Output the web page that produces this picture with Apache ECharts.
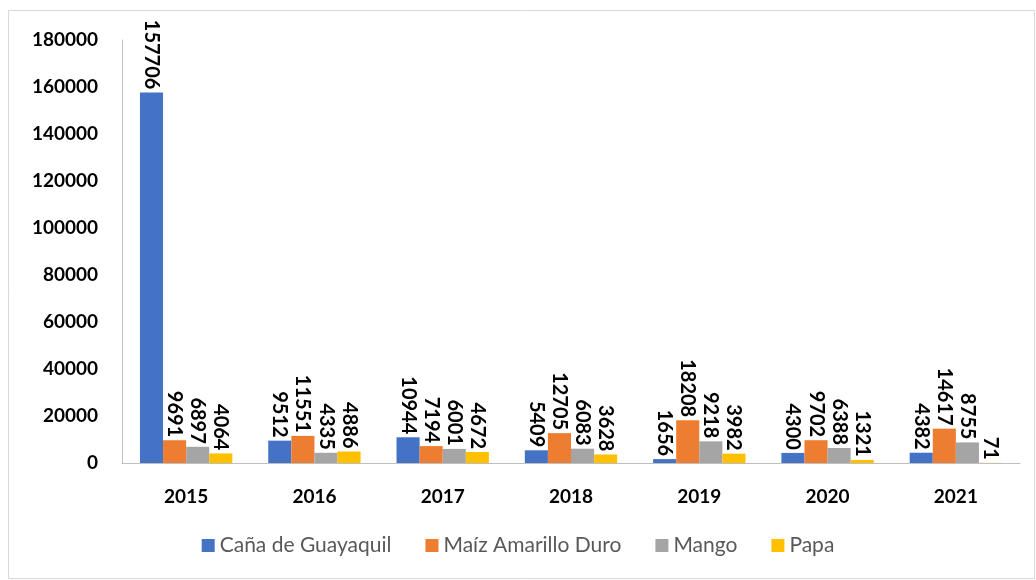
<!DOCTYPE html>
<html>
<head>
<meta charset="utf-8">
<script src="https://cdn.jsdelivr.net/npm/echarts@6/dist/echarts.min.js"></script>
<style>
  html, body { margin: 0; padding: 0; background: #fff; }
  #main { width: 1036px; height: 580px; }
</style>
</head>
<body>
<div id="main"></div>
<script>
const years = ['2015', '2016', '2017', '2018', '2019', '2020', '2021'];
const cana = [157706, 9512, 10944, 5409, 1656, 4300, 4382];
const maiz = [9691, 11551, 7194, 12705, 18208, 9702, 14617];
const mango = [6897, 4335, 6001, 6083, 9218, 6388, 8755];
const papa = [4064, 4886, 4672, 3628, 3982, 1321, 71];

const font = 'Lato, "Open Sans", sans-serif';

const chart = echarts.init(document.getElementById('main'));

const barLabel = {
  show: true,
  position: 'top',
  rotate: -90,
  align: 'right',
  verticalAlign: 'middle',
  distance: 3,
  fontFamily: font,
  fontWeight: 'bold',
  fontSize: 20,
  color: '#000'
};

function makeSeries(name, data, color) {
  return {
    name: name,
    type: 'bar',
    data: data,
    barGap: '0%',
    barCategoryGap: '28%',
    itemStyle: { color: color },
    label: barLabel
  };
}

const option = {
  backgroundColor: '#fff',
  animation: false,
  graphic: [{
    type: 'rect',
    shape: { x: 8.5, y: 10.5, width: 1026, height: 568 },
    style: { fill: 'none', stroke: '#d9d9d9', lineWidth: 1 }
  }],
  grid: { left: 122, right: 16, top: 40, bottom: 117 },
  legend: {
    bottom: 19,
    left: 'center',
    itemWidth: 13,
    itemHeight: 13,
    itemGap: 34,
    icon: 'rect',
    textStyle: { fontFamily: font, fontSize: 21, color: '#595959' },
    data: ['Caña de Guayaquil', 'Maíz Amarillo Duro', 'Mango', 'Papa']
  },
  xAxis: {
    type: 'category',
    data: years,
    axisLine: { lineStyle: { color: '#bfbfbf', width: 1 } },
    axisTick: { show: false },
    axisLabel: {
      margin: 24,
      fontFamily: font,
      fontWeight: 'bold',
      fontSize: 19,
      color: '#000'
    }
  },
  yAxis: {
    type: 'value',
    min: 0,
    max: 180000,
    interval: 20000,
    axisLine: { show: true, lineStyle: { color: '#bfbfbf', width: 1 } },
    axisTick: { show: false },
    splitLine: { show: false },
    axisLabel: {
      margin: 24,
      fontFamily: font,
      fontWeight: 'bold',
      fontSize: 19,
      color: '#000',
      formatter: function (v) { return String(v); }
    }
  },
  series: [
    makeSeries('Caña de Guayaquil', cana, '#4472c4'),
    makeSeries('Maíz Amarillo Duro', maiz, '#ed7d31'),
    makeSeries('Mango', mango, '#a5a5a5'),
    makeSeries('Papa', papa, '#ffc000')
  ]
};

chart.setOption(option);
</script>
</body>
</html>
